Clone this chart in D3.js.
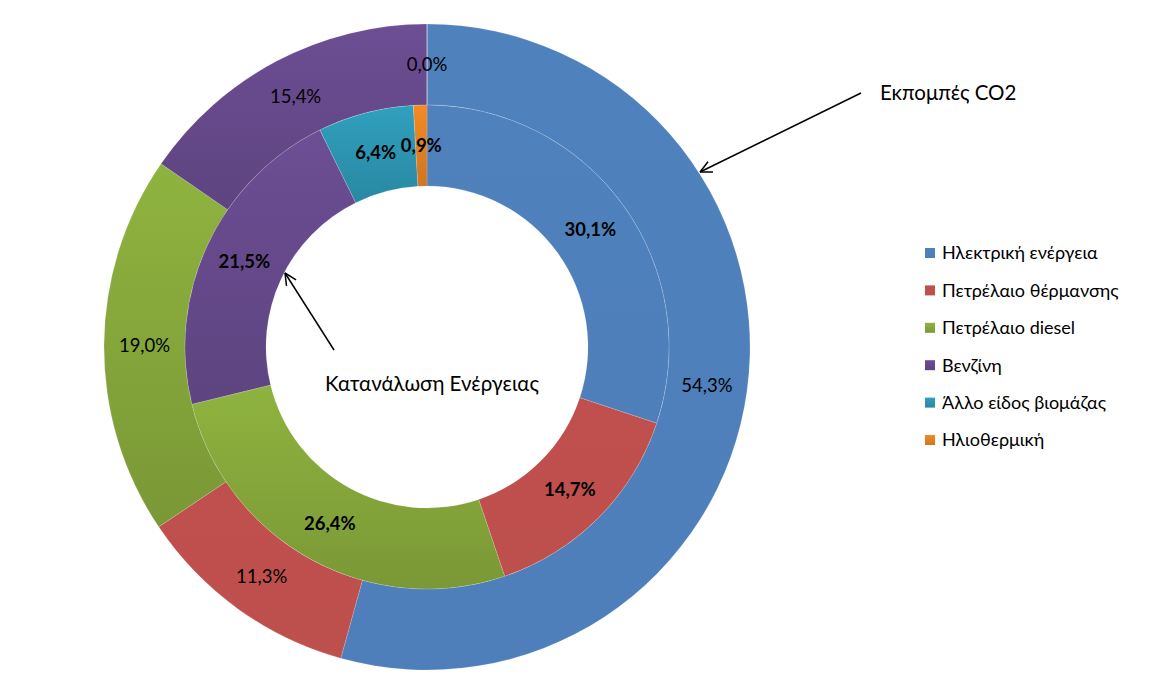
<!DOCTYPE html>
<html>
<head>
<meta charset="utf-8">
<script src="https://cdn.jsdelivr.net/npm/d3@7"></script>
<style>
body { margin: 0; background: #fff; }
text { font-family: Lato, "Open Sans", sans-serif; }
</style>
</head>
<body>
<script>
// double donut: inner = energy use, outer = CO2 emissions

var categories = ["Ηλεκτρική ενέργεια", "Πετρέλαιο θέρμανσης", "Πετρέλαιο diesel",
                  "Βενζίνη", "Άλλο είδος βιομάζας", "Ηλιοθερμική"];
var energyShare = [30.1, 14.7, 26.4, 21.5, 6.4, 0.9];
var co2Share = [54.3, 11.3, 19.0, 15.4, 0.0, 0.0];

var colors = ["#4F81BD", "#C0504D", "#8FB33F", "#6C4E94", "#30A0BE", "#F38A25"];
var shade = [0.05, 0.05, 0.45, 0.4, 0.45, 0.45];

var width = 1150;
var height = 694;
var cx = 427, cy = 347;

var svg = d3.select("body").append("svg")
    .attr("width", width)
    .attr("height", height);

var defs = svg.append("defs");
colors.forEach(function(c, i) {
    var g = defs.append("linearGradient")
        .attr("id", "grad" + i)
        .attr("x1", 0).attr("y1", 0).attr("x2", 0).attr("y2", 1);
    g.append("stop").attr("offset", "0%").attr("stop-color", c);
    g.append("stop").attr("offset", "100%").attr("stop-color", d3.color(c).darker(shade[i]));
});

var pie = d3.pie().sort(null).value(function(d) { return d; });

var chart = svg.append("g").attr("transform", "translate(" + cx + "," + cy + ")");

function ring(values, r0, r1, bold) {
    var arc = d3.arc().innerRadius(r0).outerRadius(r1);
    var arcs = pie(values);
    chart.append("g").selectAll("path")
        .data(arcs)
        .enter().append("path")
        .attr("d", arc)
        .attr("fill", function(d, i) { return "url(#grad" + i + ")"; })
        .attr("stroke", "rgba(255,255,255,0.25)")
        .attr("stroke-width", 0.6);

    var seen = {};
    chart.append("g").selectAll("text")
        .data(arcs.filter(function(d) {
            var k = Math.round(d.startAngle * 100) + "_" + Math.round(d.endAngle * 100);
            if (seen[k]) return false;
            seen[k] = true;
            return true;
        }))
        .enter().append("text")
        .attr("transform", function(d) { return "translate(" + arc.centroid(d) + ")"; })
        .attr("text-anchor", "middle")
        .attr("dy", "0.35em")
        .attr("font-size", 18.5)
        .attr("font-weight", bold ? "bold" : "normal")
        .attr("fill", "#000")
        .text(function(d) { return d3.format(".1f")(d.data).replace(".", ",") + "%"; });
}

ring(co2Share, 242, 323, false);
ring(energyShare, 161, 242, true);

// annotations
function arrow(x1, y1, x2, y2) {
    svg.append("line")
        .attr("x1", x1).attr("y1", y1).attr("x2", x2).attr("y2", y2)
        .attr("stroke", "#000").attr("stroke-width", 1.5);
    var a = Math.atan2(y1 - y2, x1 - x2);
    [-0.45, 0.45].forEach(function(o) {
        svg.append("line")
            .attr("x1", x2).attr("y1", y2)
            .attr("x2", x2 + 13 * Math.cos(a + o))
            .attr("y2", y2 + 13 * Math.sin(a + o))
            .attr("stroke", "#000").attr("stroke-width", 1.5);
    });
}

arrow(861, 93, 700, 172);
svg.append("text")
    .attr("x", 880).attr("y", 100)
    .attr("font-size", 20.5)
    .text("Εκπομπές CO2");

arrow(334, 350, 285, 273);
svg.append("text")
    .attr("x", 432).attr("y", 391)
    .attr("text-anchor", "middle")
    .attr("font-size", 20.5)
    .text("Κατανάλωση Ενέργειας");

// legend
var legend = svg.append("g").attr("transform", "translate(925,253)");
var row = legend.selectAll("g")
    .data(categories)
    .enter().append("g")
    .attr("transform", function(d, i) { return "translate(0," + (i * 37.4) + ")"; });
row.append("rect")
    .attr("x", 0).attr("y", -5)
    .attr("width", 10).attr("height", 10)
    .attr("fill", function(d, i) { return "url(#grad" + i + ")"; });
row.append("text")
    .attr("x", 17).attr("dy", "0.35em")
    .attr("font-size", 18)
    .text(function(d) { return d; });
</script>
</body>
</html>
